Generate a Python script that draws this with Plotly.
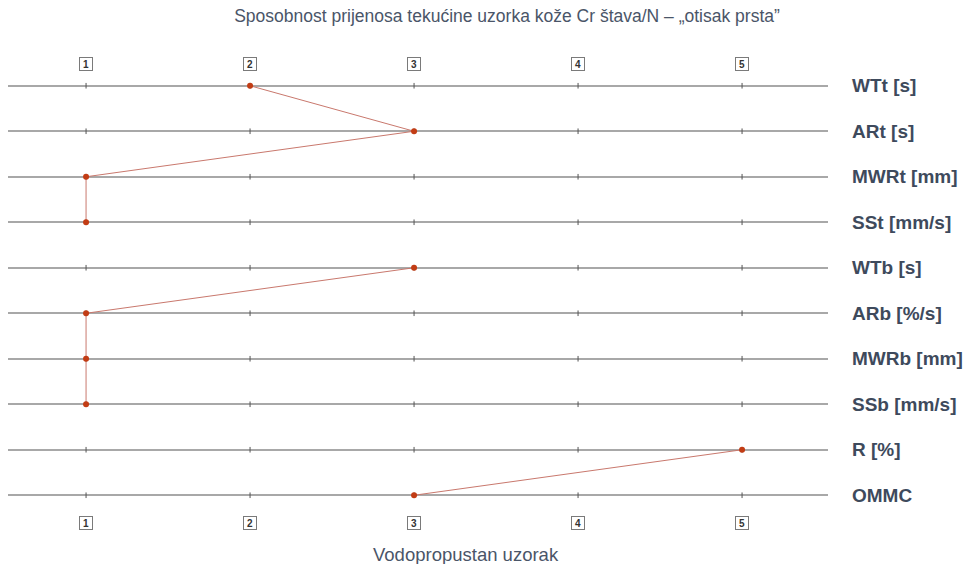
import plotly.graph_objects as go

# Parameters measured on each sample, with the sample rank on each one
categories = ["WTt [s]", "ARt [s]", "MWRt [mm]", "SSt [mm/s]", "WTb [s]",
              "ARb [%/s]", "MWRb [mm]", "SSb [mm/s]", "R [%]", "OMMC"]
ranks = [2, 3, 1, 1, 3, 1, 1, 1, 5, 3]
# parameter groups: top surface, bottom surface, overall
groups = ["top", "top", "top", "top", "bottom", "bottom", "bottom", "bottom",
          "overall", "overall"]
rank_ticks = [1, 2, 3, 4, 5]

title_text = "Sposobnost prijenosa tekućine uzorka kože Cr štava/N – „otisak prsta”"
x_title_text = "Vodopropustan uzorak"

W, H = 967, 564
M_L, M_R, M_T, M_B = 8, 139, 63, 46
plot_w = W - M_L - M_R
plot_h = H - M_T - M_B

text_col = "#4a5568"

fig = go.Figure()

# small tick marks on every row at each rank position
tx, ty = [], []
for c in categories:
    for r in rank_ticks:
        tx.append(r)
        ty.append(c)
fig.add_trace(go.Scatter(
    x=tx, y=ty, mode="markers", hoverinfo="skip", showlegend=False,
    marker=dict(symbol="line-ns", size=4, line=dict(width=1, color="#555555")),
))

# the profile line, broken between parameter groups
for g in dict.fromkeys(groups):
    idx = [i for i, gg in enumerate(groups) if gg == g]
    fig.add_trace(go.Scatter(
        x=[ranks[i] for i in idx], y=[categories[i] for i in idx],
        mode="lines+markers", showlegend=False, name=g,
        line=dict(color="#c9786d", width=1),
        marker=dict(color="#c23c14", size=6),
    ))

# pixel -> paper coordinate helpers
def paper_x(px):
    return (px - M_L) / plot_w

def paper_y(py):
    return (H - M_B - py) / plot_h

# boxed rank labels above and below the plot
for r in rank_ticks:
    for py in (64, 523):
        fig.add_annotation(
            x=r, y=paper_y(py), xref="x", yref="paper", text=f"<b>{r}</b>",
            showarrow=False, font=dict(size=10, color="#333333", family="Arial"),
            bordercolor="#7a7a7a", borderwidth=1, borderpad=0, bgcolor="#ffffff",
            width=12, height=12, xanchor="center", yanchor="middle",
        )

fig.add_annotation(
    x=paper_x(466), y=paper_y(554), xref="paper", yref="paper",
    text=x_title_text, showarrow=False,
    font=dict(size=18.5, color=text_col, family="Arial"),
    xanchor="center", yanchor="middle",
)

fig.update_layout(
    width=W, height=H,
    margin=dict(l=M_L, r=M_R, t=M_T, b=M_B, autoexpand=False),
    paper_bgcolor="white", plot_bgcolor="white",
    title=dict(text=title_text, x=507 / W, xanchor="center",
               y=1 - 16 / H, yanchor="middle",
               font=dict(size=17.5, color=text_col, family="Arial")),
    xaxis=dict(range=[0.524, 5.524], showgrid=False, zeroline=False,
               showticklabels=False, showline=False, ticks=""),
    yaxis=dict(categoryorder="array", categoryarray=categories,
               range=[9.5, -0.5], side="right", showgrid=True,
               gridcolor="#a8a8a8", gridwidth=1.5, zeroline=False,
               showline=False, ticks="", ticklabelstandoff=23, automargin=False,
               tickfont=dict(size=19, color="#3e4a5c", family="Arial",
                             weight="bold")),
)

fig.write_html("out.html")
